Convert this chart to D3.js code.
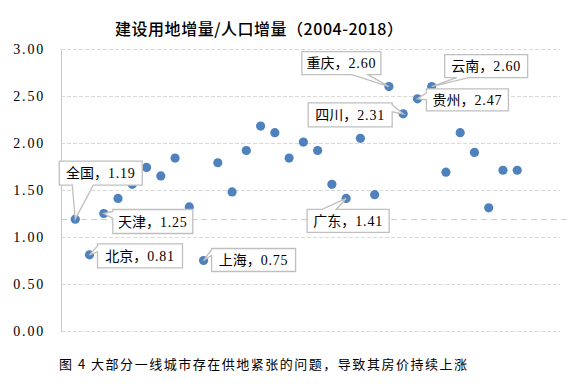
<!DOCTYPE html>
<html>
<head>
<meta charset="utf-8">
<script src="https://cdn.jsdelivr.net/npm/d3@7/dist/d3.min.js"></script>
<style>
  html, body { margin: 0; padding: 0; background: #fff; }
  svg { display: block; }
</style>
</head>
<body>
<svg id="chart" width="576" height="384"></svg>
<script>
// ---- data ----
const regions = ["全国","北京","天津","河北","山西","内蒙古","辽宁","吉林","黑龙江","上海","江苏","浙江","安徽","福建","江西","山东","河南","湖北","湖南","广东","广西","海南","重庆","四川","贵州","云南","西藏","陕西","甘肃","青海","宁夏","新疆"];
const ratios = [1.19,0.81,1.25,1.41,1.56,1.74,1.65,1.84,1.32,0.75,1.79,1.48,1.92,2.18,2.11,1.84,2.01,1.92,1.56,1.41,2.05,1.45,2.60,2.31,2.47,2.60,1.69,2.11,1.90,1.31,1.71,1.71];
const yTicks = [0, 0.5, 1, 1.5, 2, 2.5, 3];
const labelled = ["全国","北京","天津","上海","广东","重庆","四川","贵州","云南"];
const titleText = "建设用地增量/人口增量（2004-2018）";
const captionText = "图 4 大部分一线城市存在供地紧张的问题，导致其房价持续上涨";

// ---- callout layout (box offset from point, size, pointer edge & base) ----
const calloutLayout = {
  "全国": {dx:-16, dy:-58, w:83, h:24, edge:"bottom", a:13, b:34},
  "北京": {dx:8,   dy:-11, w:85, h:24, edge:"left",   a:2,  b:8},
  "天津": {dx:9,   dy:-4,  w:80, h:24, edge:"left",   a:2,  b:9},
  "上海": {dx:8,   dy:-12, w:84, h:23, edge:"left",   a:1,  b:7},
  "广东": {dx:-39, dy:11,  w:82, h:23, edge:"top",    a:15, b:29},
  "重庆": {dx:-87, dy:-35, w:79, h:23, edge:"bottom", a:50, b:66},
  "四川": {dx:-95, dy:-11, w:84, h:24, edge:"right",  a:2,  b:9},
  "贵州": {dx:9,   dy:-10, w:82, h:22, edge:"left",   a:4,  b:11},
  "云南": {dx:13,  dy:-32, w:83, h:23, edge:"bottom", a:12, b:24}
};

const svg = d3.select("#chart");
const x = d3.scaleLinear().domain([0, 35]).range([61, 560]);
const y = d3.scaleLinear().domain([0, 3]).range([331, 49]);

const serif = "'Liberation Serif','Noto Sans CJK SC',serif";
const cjk = "'Noto Sans CJK SC','Liberation Serif',sans-serif";

// title
svg.append("text")
  .attr("x", 115).attr("y", 35)
  .attr("textLength", 288).attr("lengthAdjust", "spacing")
  .style("font-family", cjk).style("font-size", "16px").style("font-weight", "500")
  .attr("fill", "#000")
  .text(titleText);

// gridlines
svg.append("g").selectAll("line").data(yTicks).join("line")
  .attr("x1", x(0)).attr("x2", 560)
  .attr("y1", d => Math.round(y(d)) + 0.5).attr("y2", d => Math.round(y(d)) + 0.5)
  .attr("stroke", "#d9d9d9").attr("stroke-width", 1)
  .attr("stroke-dasharray", "4,2");

// y axis via d3.axisLeft
const yAxis = d3.axisLeft(y).tickValues(yTicks).tickSize(0).tickPadding(0)
  .tickFormat(d3.format(".2f"));
const gY = svg.append("g").attr("transform", "translate(45,0)").call(yAxis);
gY.select(".domain").remove();
gY.selectAll("text")
  .style("font-family", serif).style("font-size", "14px")
  .attr("fill", "#000").attr("letter-spacing", "1.8px");

// vertical axis line
svg.append("line")
  .attr("x1", x(0) + 0.5).attr("x2", x(0) + 0.5)
  .attr("y1", y(3)).attr("y2", y(0))
  .attr("stroke", "#c8c8c8").attr("stroke-width", 1);

// national reference line
svg.append("line")
  .attr("x1", x(0)).attr("x2", 568)
  .attr("y1", Math.round(y(ratios[0])) + 0.5).attr("y2", Math.round(y(ratios[0])) + 0.5)
  .attr("stroke", "#d0d0d0").attr("stroke-width", 1)
  .attr("stroke-dasharray", "6,4");

// points
const pts = regions.map((r, i) => ({name: r, idx: i + 1, v: ratios[i]}));
svg.append("g").selectAll("circle").data(pts).join("circle")
  .attr("cx", d => x(d.idx)).attr("cy", d => y(d.v))
  .attr("r", 4.6)
  .attr("fill", "#4f81bd");

// callouts
function calloutPath(px, py, L) {
  const x0 = px + L.dx, y0 = py + L.dy, x1 = x0 + L.w, y1 = y0 + L.h;
  const p = [];
  p.push([x0, y0]);
  if (L.edge === "top") { p.push([x0 + L.a, y0]); p.push([px, py]); p.push([x0 + L.b, y0]); }
  p.push([x1, y0]);
  if (L.edge === "right") { p.push([x1, y0 + L.a]); p.push([px, py]); p.push([x1, y0 + L.b]); }
  p.push([x1, y1]);
  if (L.edge === "bottom") { p.push([x0 + L.b, y1]); p.push([px, py]); p.push([x0 + L.a, y1]); }
  p.push([x0, y1]);
  if (L.edge === "left") { p.push([x0, y0 + L.b]); p.push([px, py]); p.push([x0, y0 + L.a]); }
  return "M" + p.map(q => q.join(",")).join("L") + "Z";
}

const gC = svg.append("g");
pts.filter(d => labelled.includes(d.name)).forEach(d => {
  const L = calloutLayout[d.name];
  const px = x(d.idx), py = y(d.v);
  gC.append("path")
    .attr("d", calloutPath(px, py, L))
    .attr("fill", "#fff").attr("stroke", "#bfbfbf").attr("stroke-width", 1.3)
    .attr("stroke-linejoin", "miter");
  const t = gC.append("text")
    .attr("x", px + L.dx + L.w / 2).attr("y", py + L.dy + L.h / 2 + 5)
    .attr("text-anchor", "middle")
    .style("font-size", "14px").attr("fill", "#000");
  t.append("tspan").style("font-family", cjk).text(d.name + "，");
  t.append("tspan").style("font-family", serif).attr("letter-spacing", "0.8px")
    .text(d3.format(".2f")(d.v));
});

// caption
svg.append("text")
  .attr("x", 59).attr("y", 369)
  .attr("textLength", 408).attr("lengthAdjust", "spacing")
  .style("font-family", cjk).style("font-size", "13px")
  .attr("fill", "#000")
  .text(captionText);
</script>
</body>
</html>
